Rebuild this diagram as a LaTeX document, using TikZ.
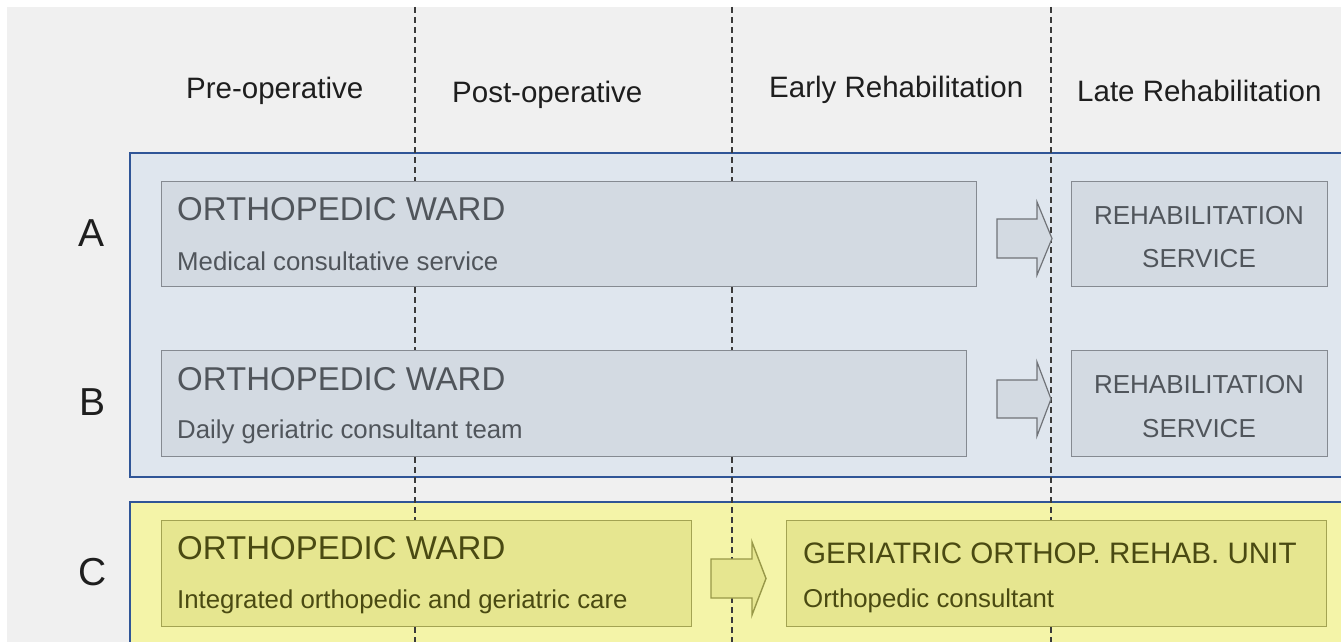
\documentclass[tikz,border=0pt]{standalone}
\usepackage{fontspec}
\setmainfont{Liberation Sans}
\definecolor{bgc}{HTML}{F0F0F0}
\definecolor{panelfill}{HTML}{DFE6EE}
\definecolor{panelline}{HTML}{2F5597}
\definecolor{grayfill}{HTML}{D3DAE2}
\definecolor{grayline}{HTML}{858A91}
\definecolor{arrowline}{HTML}{707378}
\definecolor{grayText}{HTML}{50555B}
\definecolor{yelpanel}{HTML}{F4F4A8}
\definecolor{yelfill}{HTML}{E6E690}
\definecolor{yelline}{HTML}{A3A352}
\definecolor{yelarrowline}{HTML}{989848}
\definecolor{yelText}{HTML}{4A4A12}
\definecolor{hdrText}{HTML}{1E1E1E}
\definecolor{dashc}{HTML}{3A3A3A}
\begin{document}
\begin{tikzpicture}[x=1pt,y=-1pt,
  hdr/.style={anchor=base west, inner sep=0pt, text=hdrText, font=\fontsize{29.5}{32}\selectfont},
  rowlbl/.style={anchor=base west, inner sep=0pt, text=hdrText, font=\fontsize{39}{40}\selectfont},
  graybox/.style={draw=grayline, fill=grayfill, line width=1.2pt, rectangle, anchor=north west, inner sep=0pt},
  yelbox/.style={draw=yelline, fill=yelfill, line width=1.2pt, rectangle, anchor=north west, inner sep=0pt},
  titleG/.style={anchor=base west, inner sep=0pt, text=grayText, font=\fontsize{33}{34}\selectfont},
  subG/.style={anchor=base west, inner sep=0pt, text=grayText, font=\fontsize{25.8}{27}\selectfont},
  rehabT/.style={anchor=base, inner sep=0pt, text=grayText, font=\fontsize{26}{27}\selectfont},
  titleY/.style={anchor=base west, inner sep=0pt, text=yelText, font=\fontsize{33}{34}\selectfont},
  subY/.style={anchor=base west, inner sep=0pt, text=yelText, font=\fontsize{25.8}{27}\selectfont},
  blockarrowA/.style={draw=arrowline, fill=grayfill, line width=1.2pt, line join=miter},
  blockarrowY/.style={draw=yelarrowline, fill=yelfill, line width=1.4pt, line join=miter},
  phaseline/.style={draw=dashc, line width=1.3pt, dash pattern=on 6pt off 4pt}
]
\useasboundingbox (0,0) rectangle (1341,642);
\fill[white] (0,0) rectangle (1341,642);
\fill[bgc] (7,7) rectangle (1341,642);
% panels
\draw[fill=panelfill, draw=panelline, line width=2pt] (130,153) rectangle (1350,477);
\draw[fill=yelpanel, draw=panelline, line width=2pt] (130,502) rectangle (1350,660);
% headers
\node[hdr] (hpre) at (186,98) {Pre-operative};
\node[hdr] (hpost) at (452,102) {Post-operative};
\node[hdr] (hearly) at (769,97) {Early Rehabilitation};
\node[hdr] (hlate) at (1077,101) {Late Rehabilitation};
% row labels
\node[rowlbl] (lA) at (78,246) {A};
\node[rowlbl] (lB) at (79,415) {B};
\node[rowlbl] (lC) at (78,585) {C};
% phase lines
\coordinate (d1t) at (415,7); \coordinate (d1b) at (415,642);
\coordinate (d2t) at (732,7); \coordinate (d2b) at (732,642);
\coordinate (d3t) at (1051,7); \coordinate (d3b) at (1051,642);
\draw[phaseline] (d1t) -- (d1b);
\draw[phaseline] (d2t) -- (d2b);
\draw[phaseline] (d3t) -- (d3b);
% arrows
\coordinate (aA) at (997,238.5);
\coordinate (aB) at (997,399);
\coordinate (aC) at (711,578.5);
\draw[blockarrowA] (aA) ++(0,-19.5) -- ++(40,0) -- ++(0,-17) -- ++(15,36.5) -- ++(-15,36.5) -- ++(0,-17) -- ++(-40,0) -- cycle;
\draw[blockarrowA] (aB) ++(0,-19) -- ++(40,0) -- ++(0,-18) -- ++(14,37) -- ++(-14,37) -- ++(0,-18) -- ++(-40,0) -- cycle;
\draw[blockarrowY] (aC) ++(0,-19.5) -- ++(41,0) -- ++(0,-17) -- ++(14,36.5) -- ++(-14,36.5) -- ++(0,-17) -- ++(-41,0) -- cycle;
% boxes
\node[graybox, minimum width=815pt, minimum height=105pt] (wardA) at (161,181) {};
\node[graybox, minimum width=256pt, minimum height=105pt] (rehabA) at (1071,181) {};
\node[graybox, minimum width=805pt, minimum height=106pt] (wardB) at (161,350) {};
\node[graybox, minimum width=256pt, minimum height=106pt] (rehabB) at (1071,350) {};
\node[yelbox, minimum width=530pt, minimum height=106pt] (wardC) at (161,520) {};
\node[yelbox, minimum width=540pt, minimum height=106pt] (geriC) at (786,520) {};
% box texts
\node[titleG] (tA) at (177,220) {ORTHOPEDIC WARD};
\node[subG] (sA) at (177,270) {Medical consultative service};
\node[titleG] (tB) at (177,390) {ORTHOPEDIC WARD};
\node[subG] (sB) at (177,438) {Daily geriatric consultant team};
\node[titleY] (tC) at (177,559) {ORTHOPEDIC WARD};
\node[subY] (sC) at (177,608) {Integrated orthopedic and geriatric care};
\node[titleY, font=\fontsize{29.6}{31}\selectfont] (tG) at (803,563) {GERIATRIC ORTHOP. REHAB. UNIT};
\node[subY] (sG) at (803,607) {Orthopedic consultant};
\node[rehabT] (rA1) at (1199,224) {REHABILITATION};
\node[rehabT] (rA2) at (1199,267) {SERVICE};
\node[rehabT] (rB1) at (1199,393) {REHABILITATION};
\node[rehabT] (rB2) at (1199,437) {SERVICE};
\end{tikzpicture}
\end{document}
